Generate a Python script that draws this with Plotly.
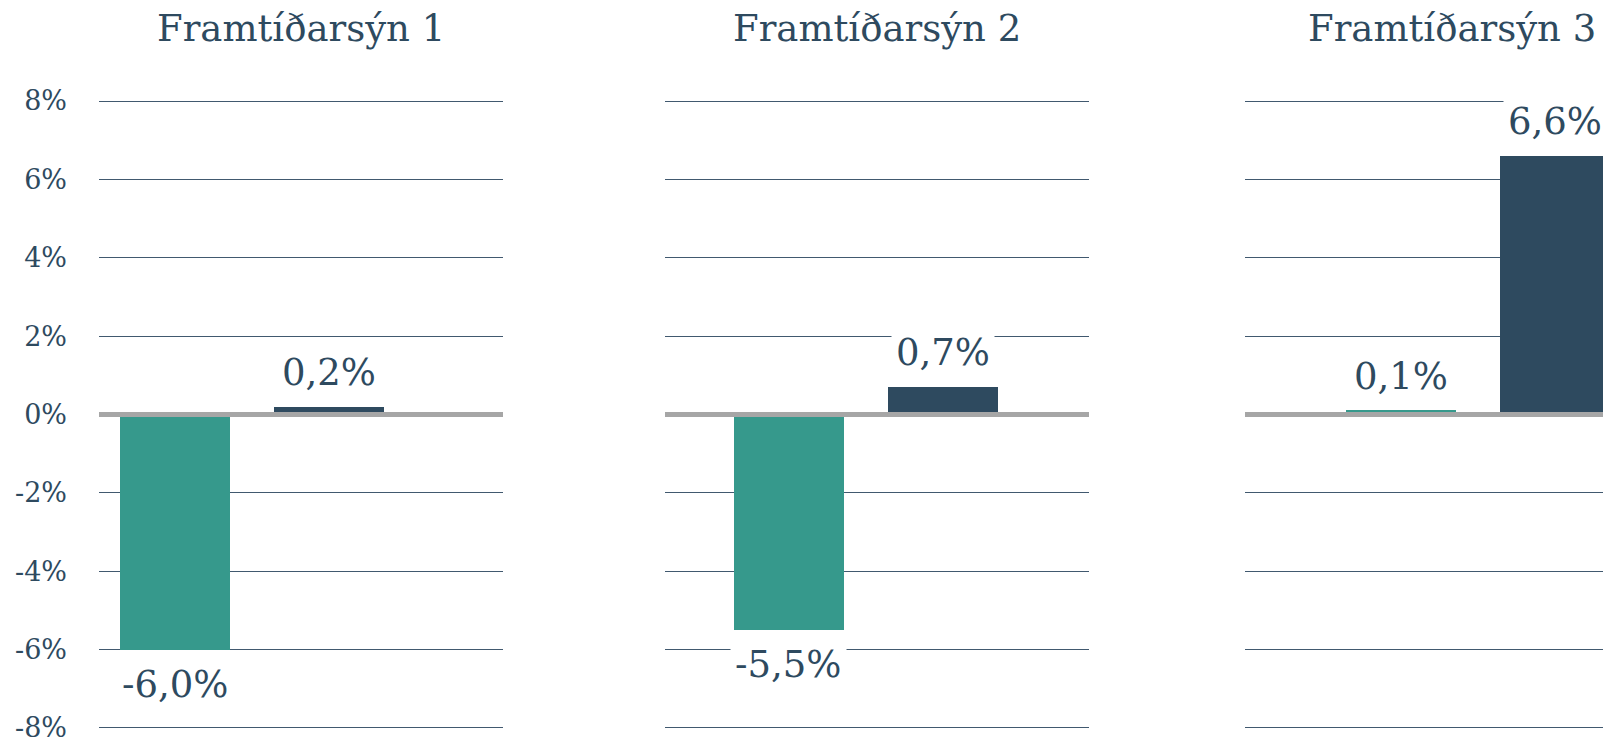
import plotly.graph_objects as go

# ---- data ----
panel_titles = ["Framtíðarsýn 1", "Framtíðarsýn 2", "Framtíðarsýn 3"]
series_names = ["Sviðsmynd A", "Sviðsmynd B"]
teal_values = [-6.0, -5.5, 0.1]
navy_values = [0.2, 0.7, 6.6]
tick_values = [-8, -6, -4, -2, 0, 2, 4, 6, 8]
tick_labels = ["-8%", "-6%", "-4%", "-2%", "0%", "2%", "4%", "6%", "8%"]

# ---- style ----
OFF = 8                      # default body margin of the html page
W, H = 1611 - OFF, 739 - OFF
TEAL = "#36998c"
NAVY = "#2e4a5f"
GRID = "#41596f"
ZERO = "#a6a6a6"
FONT = "DejaVu Serif, Georgia, serif"

# pixel layout of panels (window coordinates)
x_domains_px = [(99, 503), (665, 1089), (1245, 1611)]
x_ranges = [(-0.4935, 2.130), (-0.802, 1.951), (-1.013, 1.364)]
title_centers_px = [301, 877, 1452]
y_range = (-8.1, 8.1)
y_top_px, y_bot_px = 97.1, 731.9
title_y_px = 29

fig = go.Figure()
layout = dict(
    width=W, height=H,
    margin=dict(l=0, r=0, t=0, b=0),
    paper_bgcolor="white", plot_bgcolor="white",
    showlegend=False,
    font=dict(family=FONT, color=NAVY),
    bargap=0,
)

annotations = []
for i in range(3):
    sfx = "" if i == 0 else str(i + 1)
    vals = [teal_values[i], navy_values[i]]
    fig.add_trace(go.Bar(
        x=series_names, y=vals,
        marker=dict(color=[TEAL, NAVY], line=dict(width=0)),
        width=0.714,
        xaxis="x" + sfx, yaxis="y" + sfx,
        hoverinfo="skip",
    ))
    d0, d1 = x_domains_px[i]
    layout["xaxis" + sfx] = dict(
        domain=[(d0 - OFF) / W, min(1.0, (d1 - OFF) / W)], range=list(x_ranges[i]),
        type="category", categoryorder="array", categoryarray=series_names,
        showticklabels=False, showgrid=False, zeroline=False, showline=False,
        anchor="y" + sfx, fixedrange=True,
    )
    layout["yaxis" + sfx] = dict(
        domain=[(H - (y_bot_px - OFF)) / H, (H - (y_top_px - OFF)) / H],
        range=list(y_range),
        tickvals=tick_values, ticktext=tick_labels,
        showticklabels=(i == 0),
        tickfont=dict(family=FONT, size=27, color=NAVY),
        ticklabelstandoff=31,
        ticklabeloverflow="allow",
        showgrid=True, gridcolor=GRID, gridwidth=1,
        zeroline=True, zerolinecolor=ZERO, zerolinewidth=5,
        zerolinelayer="above traces",
        showline=False, ticks="",
        anchor="x" + sfx, automargin=False, fixedrange=True,
    )
    for name, v in zip(series_names, vals):
        txt = f"{v:.1f}".replace(".", ",") + "%"
        annotations.append(dict(
            x=name, y=v, xref="x" + sfx, yref="y" + sfx,
            text=txt, showarrow=False,
            yanchor="bottom" if v >= 0 else "top",
            yshift=8 if v >= 0 else -8,
            font=dict(family=FONT, size=37, color=NAVY),
            bgcolor="white", borderpad=4,
        ))
    annotations.append(dict(
        x=(title_centers_px[i] - OFF) / W, y=(H - (title_y_px - OFF)) / H,
        xref="paper", yref="paper",
        text=panel_titles[i], showarrow=False, xanchor="center", yanchor="middle",
        font=dict(family=FONT, size=37, color=NAVY),
    ))

layout["annotations"] = annotations
fig.update_layout(**layout)
fig.write_html("out.html")
